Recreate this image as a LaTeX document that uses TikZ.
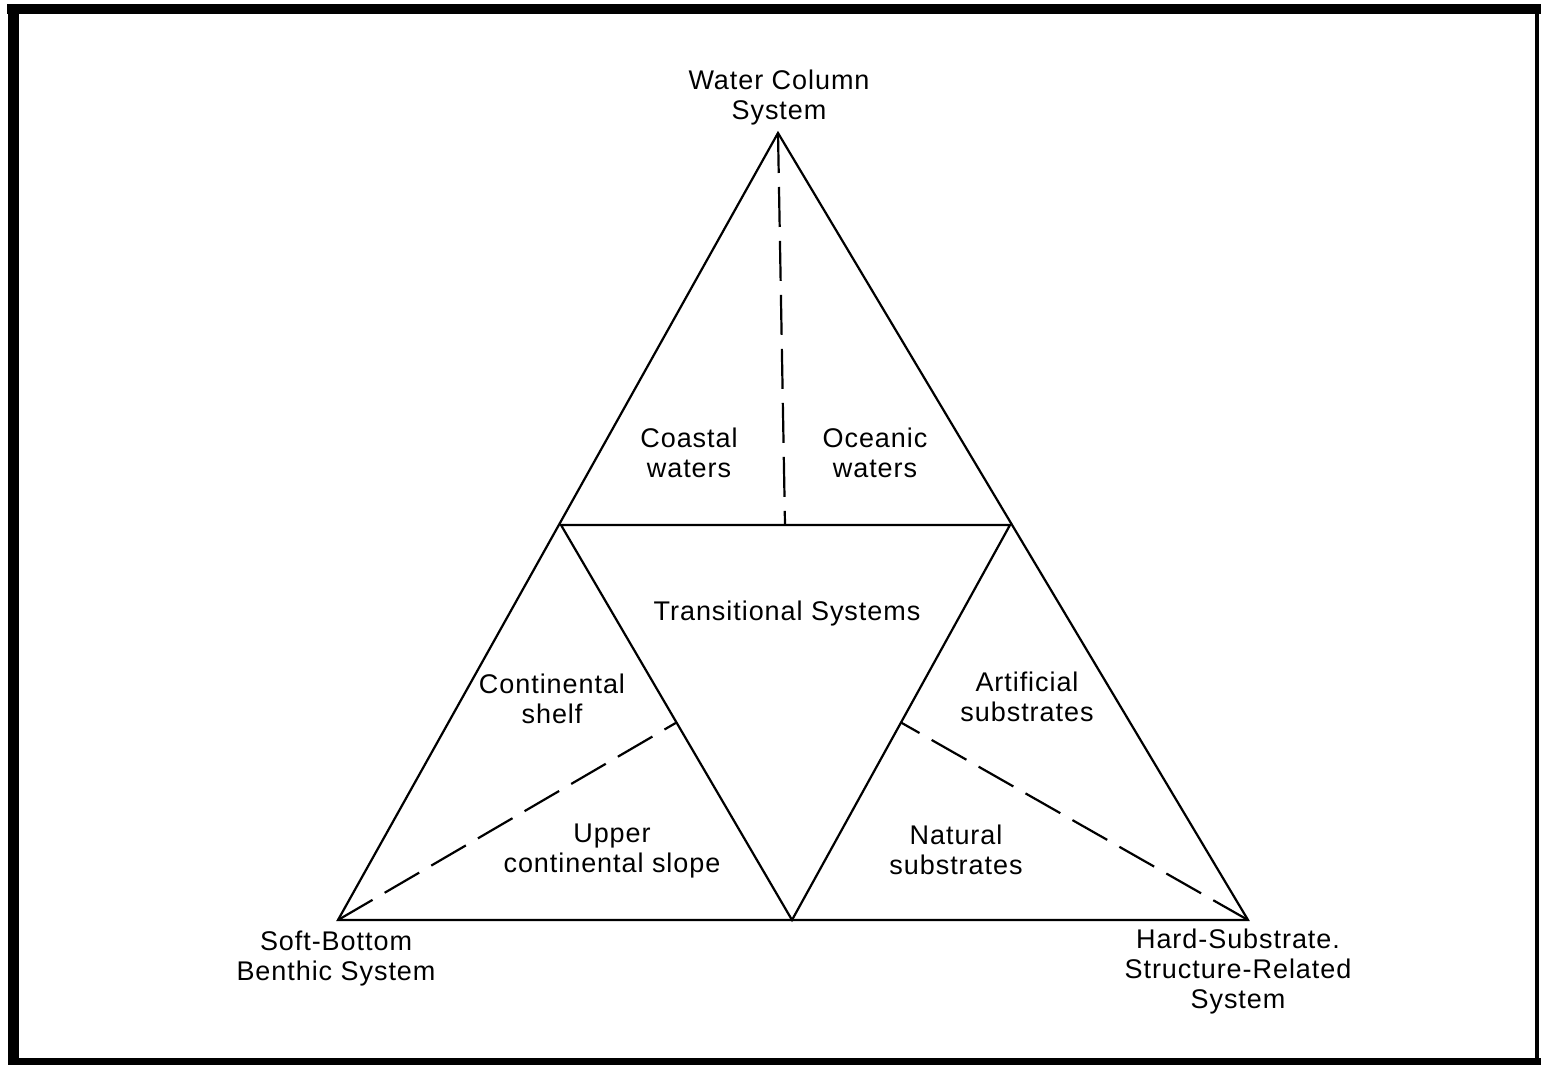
\documentclass[tikz,border=0pt]{standalone}
\usepackage{fontspec}
\setmainfont{Liberation Sans}[LetterSpace=3.5]
\begin{document}
\begin{tikzpicture}[x=1pt,y=-1pt,
  lbl/.style={align=center,font=\fontsize{27}{30}\selectfont,inner sep=0pt},
  edge/.style={line width=2.2pt,line join=miter},
  dashline/.style={line width=2.2pt,dash pattern=on 40pt off 14pt},
  frame/.style={fill=black,draw=none}]
\useasboundingbox (0,0) rectangle (1541,1065);
% frame
\fill[frame] (7,4) rectangle (1541,14);
\fill[frame] (8,4) rectangle (19,1065);
\fill[frame] (1535,10) rectangle (1539,1065);
\fill[frame] (8,1058) rectangle (1541,1065);
% vertices
\coordinate (A) at (778,133);
\coordinate (B) at (338,920);
\coordinate (C) at (1248,920);
\coordinate (L) at (561,525);
\coordinate (R) at (1010,525);
\coordinate (M) at (792,920);
\coordinate (T) at (785,525);
\coordinate (LM) at (676.5,722.5);
\coordinate (RM) at (901,722.5);
% solid edges
\draw[edge] (A) -- (B) -- (C) -- cycle;
\draw[edge] (L) -- (R) -- (M) -- cycle;
% dashed
\draw[dashline] (A) -- (T);
\draw[dashline] (B) -- (LM);
\draw[dashline] (C) -- (RM);
% labels
\node[lbl] (wc) at (779,98) {Water Column\\System};
\node[lbl] (cw) at (689,453) {Coastal\\waters};
\node[lbl] (ow) at (875,453) {Oceanic\\waters};
\node[lbl] (ts) at (787,614) {Transitional Systems};
\node[lbl] (cs) at (552,699) {Continental\\shelf};
\node[lbl] (as) at (1027,697) {Artificial\\substrates};
\node[lbl] (ucs) at (612,851) {Upper\\continental slope};
\node[lbl] (ns) at (956,850) {Natural\\substrates};
\node[lbl] (sb) at (336,959) {Soft-Bottom\\Benthic System};
\node[lbl] (hs) at (1238,972) {Hard-Substrate.\\Structure-Related\\System};
\end{tikzpicture}
\end{document}
